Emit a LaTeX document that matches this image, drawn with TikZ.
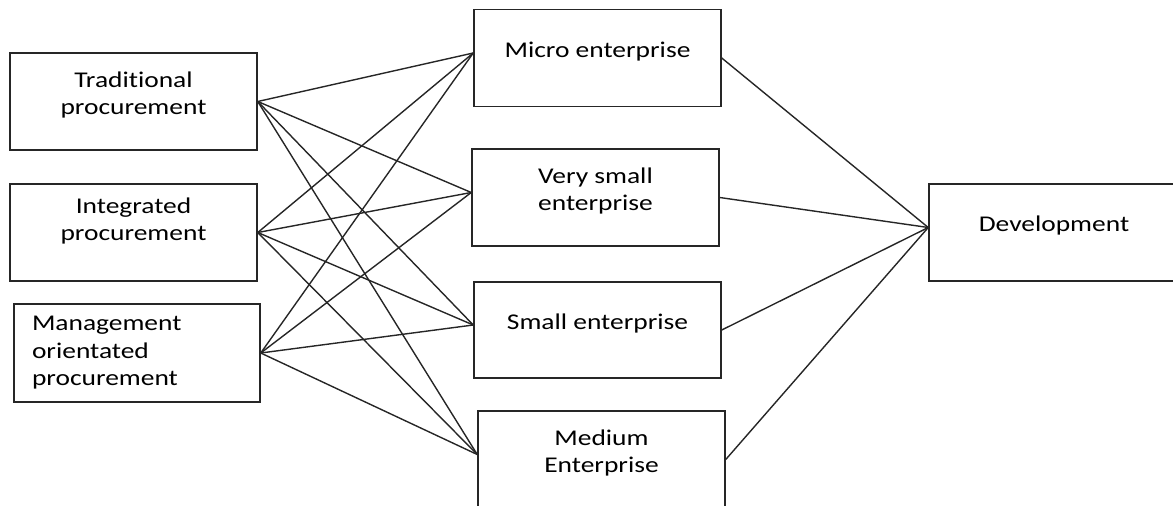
\documentclass[tikz,border=0pt]{standalone}
\usepackage{fontspec}
\setmainfont{Carlito}[FakeStretch=1.22, Ligatures=NoCommon]
\usetikzlibrary{positioning}

\tikzset{
  box/.style={draw=black!85, line width=1.5pt, minimum width=247pt, minimum height=97pt,
    inner sep=4pt, align=center, text depth=17pt, font=\fontsize{22.5}{27}\selectfont},
  link/.style={draw=black!85, line width=1.4pt},
}

\begin{document}
\begin{tikzpicture}[x=1pt, y=-1pt]
  \useasboundingbox (0,0) rectangle (1173,506);

  % Procurement approaches
  \node[box] (trad) at (133.5,101.5) {Traditional\\procurement};
  \node[box, text depth=26pt] (integ) at (133.5,232.5) {Integrated\\procurement};
  \node[box, minimum width=246pt, minimum height=98pt, text width=210pt, align=left,
    text depth={}, font=\fontsize{22.5}{27.5}\selectfont] (mgmt) at (137,353)
    {Management\\orientated\\procurement};

  % Enterprise sizes
  \node[box] (micro) at (597.5,58) {Micro enterprise};
  \node[box] (vsmall) at (595.5,197.5) {Very small\\enterprise};
  \node[box, minimum height=96pt] (small) at (597.5,330) {Small enterprise};
  \node[box] (medium) at (601.5,459.5) {Medium\\Enterprise};

  % Outcome
  \node[box, minimum width=250pt] (dev) at (1054,232.5) {Development};

  % Links
  \foreach \s in {trad,integ,mgmt}
    \foreach \t in {micro,vsmall,small,medium}
      \draw[link] (\s.east) -- ([yshift=5pt]\t.west);
  \foreach \t in {micro,vsmall,small,medium}
    \draw[link] (\t.east) -- ([yshift=5pt]dev.west);
\end{tikzpicture}
\end{document}
